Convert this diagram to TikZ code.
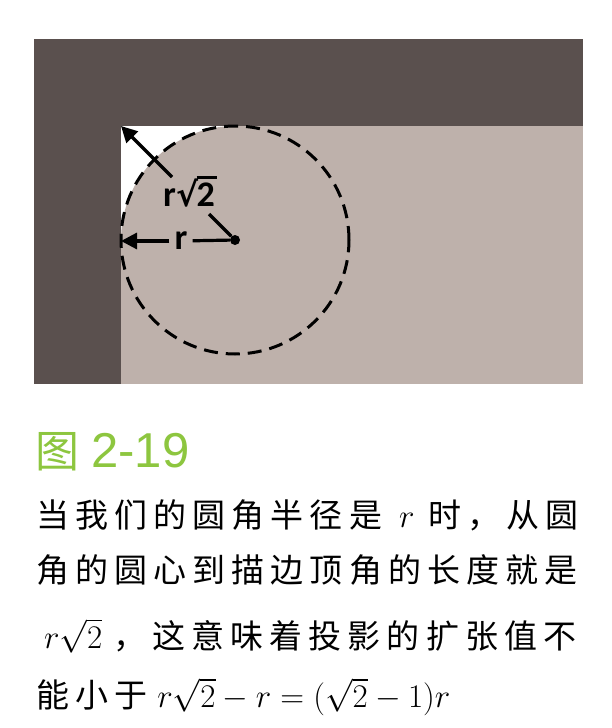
\RequirePackage{fix-cm}
\documentclass[tikz,border=0pt]{standalone}
\usepackage{fontspec}
\usetikzlibrary{arrows.meta}
\newfontfamily\cjk[LetterSpace=18.5]{Noto Sans CJK SC}
\newfontfamily\cjkcap{Noto Sans CJK SC}
\newfontfamily\arialf{Liberation Sans}
\newfontfamily\carl{Carlito}
\newfontfamily\djv{DejaVu Sans}
\definecolor{darkb}{RGB}{90,80,78}
\definecolor{lightb}{RGB}{190,177,171}
\definecolor{capgreen}{RGB}{141,198,63}
\newcommand\lblfont{\carl\bfseries\fontsize{36}{38}\selectfont}
\newcommand\rootii{{\djv\bfseries\fontsize{33}{33}\selectfont √}\kern-1.5pt\setbox0\hbox{2}\rlap{\vrule width \dimexpr\wd0+2pt\relax height \dimexpr\ht0+7pt\relax depth -\dimexpr\ht0+4pt\relax}\box0}
\tikzset{
  arr/.style={line width=3.2pt, -{Triangle[length=16pt,width=16pt]}},
  seg/.style={line width=3.2pt},
  lbl/.style={font=\lblfont, inner sep=4pt},
  txt/.style={anchor=base west, inner sep=0pt, text height=29pt, text depth=4pt, font=\cjk\fontsize{33}{33}\selectfont},
  dashcirc/.style={line width=3pt, dash pattern=on 14pt off 8pt}
}
\begin{document}
\begin{tikzpicture}[x=1pt,y=-1pt]
\useasboundingbox (0,0) rectangle (612,728);
\fill[white] (0,0) rectangle (612,728);
% panel
\fill[darkb] (34,39) rectangle (583,384);
\fill[lightb] (121,126) rectangle (583,384);
\fill[white] (121,126) rectangle (235,240);
\fill[lightb] (235,240) circle[radius=114pt];
\draw[dashcirc] (235,240) circle[radius=114pt];
% points
\node[circle, fill=black, inner sep=0pt, minimum size=10pt] (c) at (235,240) {};
\coordinate (corner) at (121,126);
\coordinate (lefttip) at (121,241);
\coordinate (d1) at (209,214);
\coordinate (d2) at (172,177);
% horizontal radius
\node[lbl, inner xsep=5pt] (rl) at (181,241) {r};
\draw[seg] (c) -- (rl);
\draw[arr] (rl) -- (lefttip);
% diagonal
\node[lbl, inner sep=0pt] (l2) at (189,192) {r\rootii};
\draw[seg] (c) -- (d1);
\draw[arr] (d2) -- (corner);
% caption
\node[anchor=base west, inner sep=0pt, text=capgreen] (cap) at (35,467)
  {{\cjkcap\fontsize{44}{44}\selectfont 图}\hspace{12pt}{\arialf\fontsize{49}{49}\selectfont 2-19}};
% body text
\node[txt] (t1) at (36,527.5) {当我们的圆角半径是\hspace{17pt}$r$\hspace{14pt}时，从圆};
\node[txt] (t2) at (36,582.5) {角的圆心到描边顶角的长度就是};
\node[txt] (t3) at (36,648) {\hspace{8pt}$r\sqrt{2}$\hspace{11pt}，这意味着投影的扩张值不};
\node[txt] (t4) at (36,707.5) {能小于\hspace{10pt}$r\sqrt{2}-r=(\sqrt{2}-1)r$};
\end{tikzpicture}
\end{document}
